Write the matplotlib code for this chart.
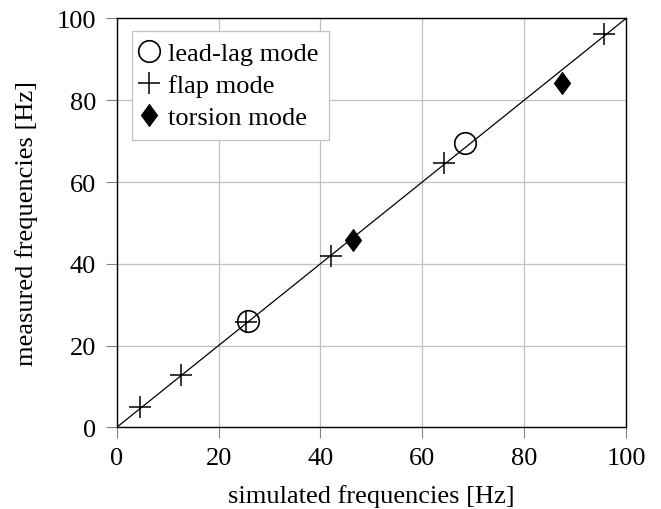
import matplotlib
matplotlib.use("Agg")
import matplotlib.pyplot as plt

# data
leadlag_sim = [25.7, 68.3]
leadlag_meas = [26.0, 69.6]
flap_sim = [4.6, 12.6, 25.4, 42.1, 64.2, 95.6]
flap_meas = [4.9, 12.8, 25.7, 41.9, 64.7, 96.1]
torsion_sim = [46.3, 87.5]
torsion_meas = [45.9, 84.1]
ref_line = [0, 100]
ticks = [0, 20, 40, 60, 80, 100]

plt.rcParams['font.family'] = ['Liberation Serif', 'DejaVu Serif']
plt.rcParams['mathtext.fontset'] = 'stix'

FS = 19

fig = plt.figure(figsize=(6.61, 5.10), dpi=100)
ax = fig.add_axes([0.1766, 0.1602, 0.947 - 0.1766, 0.9618 - 0.1602])

diamond = [(0, 1), (0.74, 0), (0, -1), (-0.74, 0), (0, 1)]

ax.plot(ref_line, ref_line, color='black', lw=0.9, zorder=2)
ax.plot(leadlag_sim, leadlag_meas, ls='none', marker='o', ms=15.5, mfc='none', mec='black', mew=1.2,
        label='lead-lag mode', zorder=3)
ax.plot(flap_sim, flap_meas, ls='none', marker='+', ms=16, mec='black', mew=1.1,
        label='flap mode', zorder=3)
ax.plot(torsion_sim, torsion_meas, ls='none', marker=diamond, ms=16, mfc='black', mec='black', mew=0.6,
        label='torsion mode', zorder=3)

ax.set_xlim(0, 100)
ax.set_ylim(0, 100)
ax.set_xticks(ticks)
ax.set_yticks(ticks)
ax.grid(True, color='#c0c0c0', lw=0.9)
ax.set_axisbelow(True)
for s in ax.spines.values():
    s.set_linewidth(1.0)
ax.tick_params(direction='out', length=8, width=0.8, color='#808080', labelsize=FS)
ax.tick_params(axis='x', pad=6)
ax.tick_params(axis='y', pad=7)
ax.set_xlabel('simulated frequencies [Hz]', fontsize=FS, labelpad=11)
ax.set_ylabel('measured frequencies [Hz]', fontsize=FS, labelpad=13)

leg = ax.legend(loc='upper left', bbox_to_anchor=(0.03, 0.97), fontsize=FS, frameon=True, fancybox=False,
                edgecolor='#c0c0c0', framealpha=1, handlelength=0.5, handletextpad=0.45,
                borderpad=0.4, labelspacing=0.33, markerscale=1.0, borderaxespad=0)
leg.get_frame().set_linewidth(0.9)

fig.savefig('out.png', dpi=100)
